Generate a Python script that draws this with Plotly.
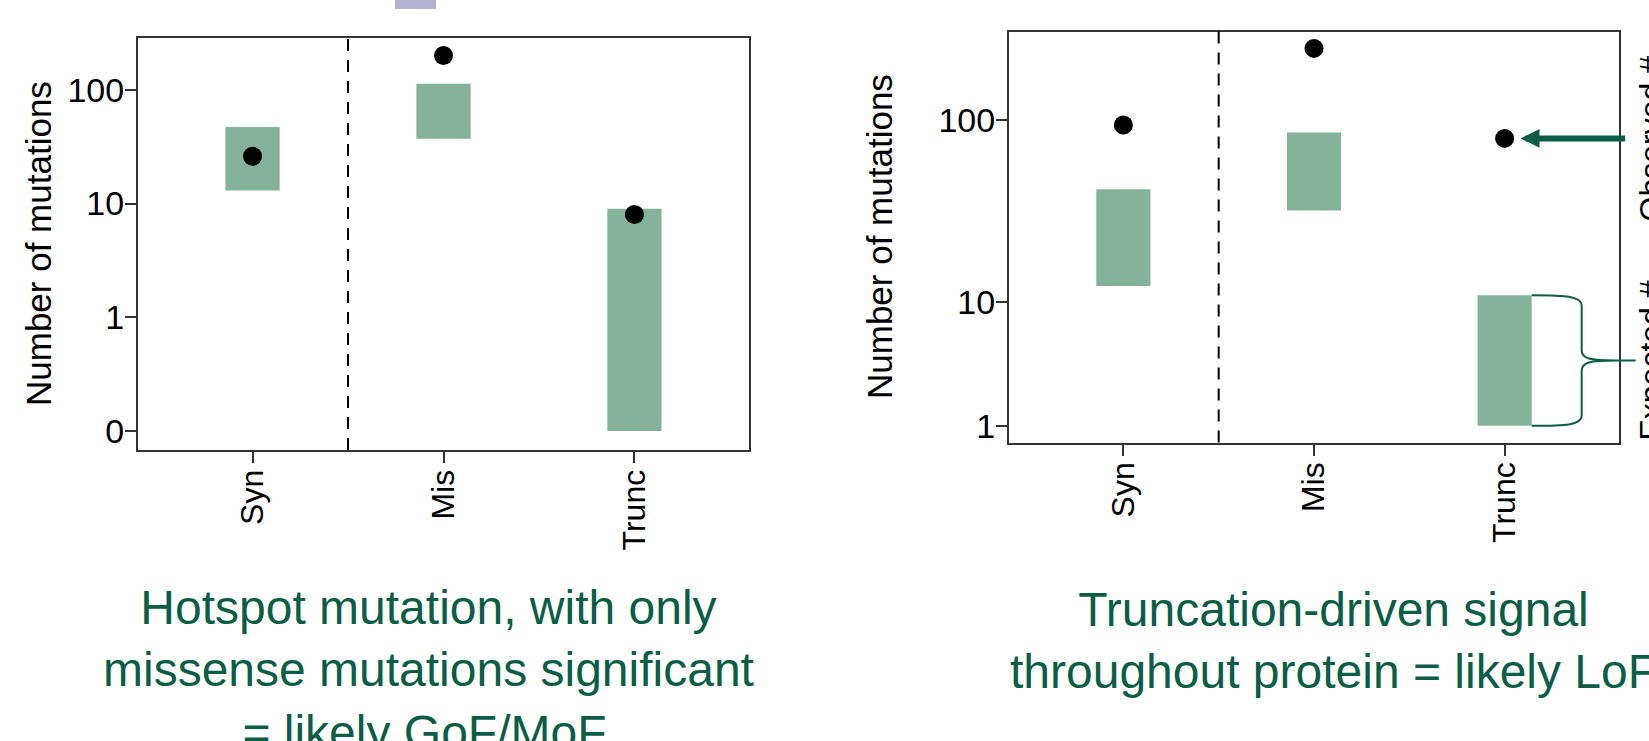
import math
import plotly.graph_objects as go

# ---------------- data ----------------
categories = ["Syn", "Mis", "Trunc"]

# Left panel: hotspot example
left_observed = [26, 200, 8]
left_expected_low = [13, 37, 0]
left_expected_high = [47, 113, 9]

# Right panel: truncation-driven example
right_observed = [94, 236, 80]
right_expected_low = [12.5, 33, 1]
right_expected_high = [43, 86, 11]

left_ytick_vals = [0, 1, 10, 100]
left_ytick_text = ["0", "1", "10", "100"]
right_ytick_vals = [1, 10, 100]
right_ytick_text = ["1", "10", "100"]

left_caption = ["Hotspot mutation, with only",
                "missense mutations significant",
                "= likely GoF/MoF."]
right_caption = ["Truncation-driven signal",
                 "throughout protein = likely LoF"]
y_title = "Number of mutations"
observed_label = "Observed #"
expected_label = "Expected #"
legend_text = "Expected (simulated), observed"

# ---------------- style ----------------
W, H = 1649, 741
FONT = "Liberation Sans"
BOX = "#84B29A"
GREEN = "#0B5E45"
AXC = "#333333"
ZERO_POS = 0.1          # where "0" sits on the left log axis
R_OFFSET = 1.7          # right panel uses a pseudo-log scale log10(v + offset)
BAR_W = 0.284

L_DOM_X = [138 / W, 749 / W]
L_DOM_Y = [1 - 450 / H, 1 - 38 / H]
R_DOM_X = [1009 / W, 1619 / W]
R_DOM_Y = [1 - 442.5 / H, 1 - 31.5 / H]
X_RANGE = [-0.6, 2.6]
L_Y_RANGE = [-1.167, 2.455]
R_Y_RANGE = [0.3454, 2.463]


def lt(v):
    """left panel value -> log axis value"""
    return v if v > 0 else ZERO_POS


def rt(v):
    """right panel value -> linear axis position (pseudo log)"""
    return math.log10(v + R_OFFSET)


def px_x(v, dom):
    f = (v - X_RANGE[0]) / (X_RANGE[1] - X_RANGE[0])
    return (dom[0] + f * (dom[1] - dom[0])) * W


def px_y_right(v):
    f = (rt(v) - R_Y_RANGE[0]) / (R_Y_RANGE[1] - R_Y_RANGE[0])
    return (1 - (R_DOM_Y[0] + f * (R_DOM_Y[1] - R_DOM_Y[0]))) * H


xs = list(range(len(categories)))
fig = go.Figure()

# left panel
fig.add_trace(go.Bar(
    x=xs, base=[lt(v) for v in left_expected_low],
    y=[lt(h) - lt(l) for h, l in zip(left_expected_high, left_expected_low)],
    width=BAR_W, marker=dict(color=BOX, line=dict(width=0)),
    xaxis="x", yaxis="y", showlegend=False, hoverinfo="skip"))
fig.add_trace(go.Scatter(
    x=xs, y=[lt(v) for v in left_observed], mode="markers",
    marker=dict(color="black", size=19, line=dict(width=0)),
    xaxis="x", yaxis="y", showlegend=False, cliponaxis=False))

# right panel
fig.add_trace(go.Bar(
    x=xs, base=[rt(v) for v in right_expected_low],
    y=[rt(h) - rt(l) for h, l in zip(right_expected_high, right_expected_low)],
    width=BAR_W, marker=dict(color=BOX, line=dict(width=0)),
    xaxis="x2", yaxis="y2", showlegend=False, hoverinfo="skip"))
fig.add_trace(go.Scatter(
    x=xs, y=[rt(v) for v in right_observed], mode="markers",
    marker=dict(color="black", size=19, line=dict(width=0)),
    xaxis="x2", yaxis="y2", showlegend=False, cliponaxis=False))

axis_common = dict(
    showline=True, linecolor=AXC, linewidth=2, mirror=True,
    showgrid=False, zeroline=False, ticks="outside", ticklen=11,
    tickwidth=2, tickcolor=AXC, automargin=False,
)
yfont = dict(family=FONT, size=34, color="black")
xfont = dict(family=FONT, size=32, color="black")

fig.update_layout(
    width=W, height=H, margin=dict(l=0, r=0, t=0, b=0),
    paper_bgcolor="white", plot_bgcolor="white",
    barmode="overlay", showlegend=False,
    xaxis=dict(domain=L_DOM_X, range=X_RANGE, tickvals=xs, ticktext=categories,
               tickangle=-90, anchor="y", ticklabelstandoff=-6, tickfont=xfont,
               **axis_common),
    yaxis=dict(domain=L_DOM_Y, type="log", range=L_Y_RANGE,
               tickvals=[lt(v) for v in left_ytick_vals], ticktext=left_ytick_text,
               anchor="x", ticklabelstandoff=-6, tickfont=yfont, **axis_common),
    xaxis2=dict(domain=R_DOM_X, range=X_RANGE, tickvals=xs, ticktext=categories,
                tickangle=-90, anchor="y2", ticklabelstandoff=-6, tickfont=xfont,
                **axis_common),
    yaxis2=dict(domain=R_DOM_Y, type="linear", range=R_Y_RANGE,
                tickvals=[rt(v) for v in right_ytick_vals], ticktext=right_ytick_text,
                anchor="x2", ticklabelstandoff=-6, tickfont=yfont, **axis_common),
)

# dashed separators between Syn and the rest
for xr, yr in [("x", "y domain"), ("x2", "y2 domain")]:
    fig.add_shape(type="line", xref=xr, yref=yr, x0=0.5, x1=0.5, y0=0, y1=1,
                  line=dict(color="black", width=2, dash="12px,9px"))

# axis titles
for xpx, dom in [(38, L_DOM_Y), (879, R_DOM_Y)]:
    fig.add_annotation(text=y_title, xref="paper", yref="paper",
                       x=xpx / W, y=(dom[0] + dom[1]) / 2, textangle=-90,
                       showarrow=False, xanchor="center", yanchor="middle",
                       font=dict(family=FONT, size=35, color="black"))

# captions
fig.add_annotation(text="<br>".join(left_caption), xref="paper", yref="paper",
                   x=428 / W, y=1 - 670 / H, showarrow=False, align="center",
                   xanchor="center", yanchor="middle",
                   font=dict(family=FONT, size=48, color=GREEN))
fig.add_annotation(text="<br>".join(right_caption), xref="paper", yref="paper",
                   x=1333 / W, y=1 - 640 / H, showarrow=False, align="center",
                   xanchor="center", yanchor="middle",
                   font=dict(family=FONT, size=48, color=GREEN))

# arrow to observed Trunc point (right panel)
fig.add_annotation(xref="x2", yref="y2", x=2, y=rt(right_observed[2]),
                   ax=122, ay=0, text="", showarrow=True, arrowhead=2,
                   arrowsize=0.63, arrowwidth=6, arrowcolor=GREEN, standoff=16)
obs_y = px_y_right(right_observed[2])
fig.add_annotation(text=observed_label, xref="paper", yref="paper",
                   x=1651 / W, y=1 - obs_y / H, textangle=-90, showarrow=False,
                   xanchor="center", yanchor="middle",
                   font=dict(family=FONT, size=32, color="black"))

# curly brace around expected Trunc range
x0 = px_x(2 + BAR_W / 2, R_DOM_X)
yt = px_y_right(right_expected_high[2])
yb = px_y_right(right_expected_low[2])
ym = (yt + yb) / 2
xv = x0 + 50
xt = x0 + 84
xe = x0 + 104


def P(x, y):
    return f"{x / W:.5f},{1 - y / H:.5f}"


path = (f"M{P(x0, yt)} C{P(x0 + 35, yt)} {P(xv, yt + 1)} {P(xv, yt + 10)} "
        f"L{P(xv, ym - 10)} C{P(xv, ym - 2)} {P(xv + 8, ym)} {P(xt, ym)} "
        f"L{P(xe, ym)} M{P(xt, ym)} C{P(xv + 8, ym)} {P(xv, ym + 2)} {P(xv, ym + 10)} "
        f"L{P(xv, yb - 10)} C{P(xv, yb - 1)} {P(x0 + 35, yb)} {P(x0, yb)}")
fig.add_shape(type="path", xref="paper", yref="paper", path=path,
              line=dict(color=GREEN, width=2))
fig.add_annotation(text=expected_label, xref="paper", yref="paper",
                   x=1651 / W, y=1 - ym / H, textangle=-90, showarrow=False,
                   xanchor="center", yanchor="middle",
                   font=dict(family=FONT, size=32, color="black"))

# partially visible legend at the top
fig.add_shape(type="rect", xref="paper", yref="paper",
              x0=395 / W, x1=436 / W, y0=1 - 9 / H, y1=1.02,
              fillcolor="#B3B3D6", line=dict(width=0))
fig.add_annotation(text=legend_text, xref="paper", yref="paper",
                   x=452 / W, y=1 - 2 / H, xanchor="left", yanchor="bottom",
                   showarrow=False, font=dict(family=FONT, size=28, color="black"))

fig.write_html(
    "out.html",
    config={"displayModeBar": False},
    post_script="document.body.style.margin='0';document.body.style.overflow='hidden';",
)
